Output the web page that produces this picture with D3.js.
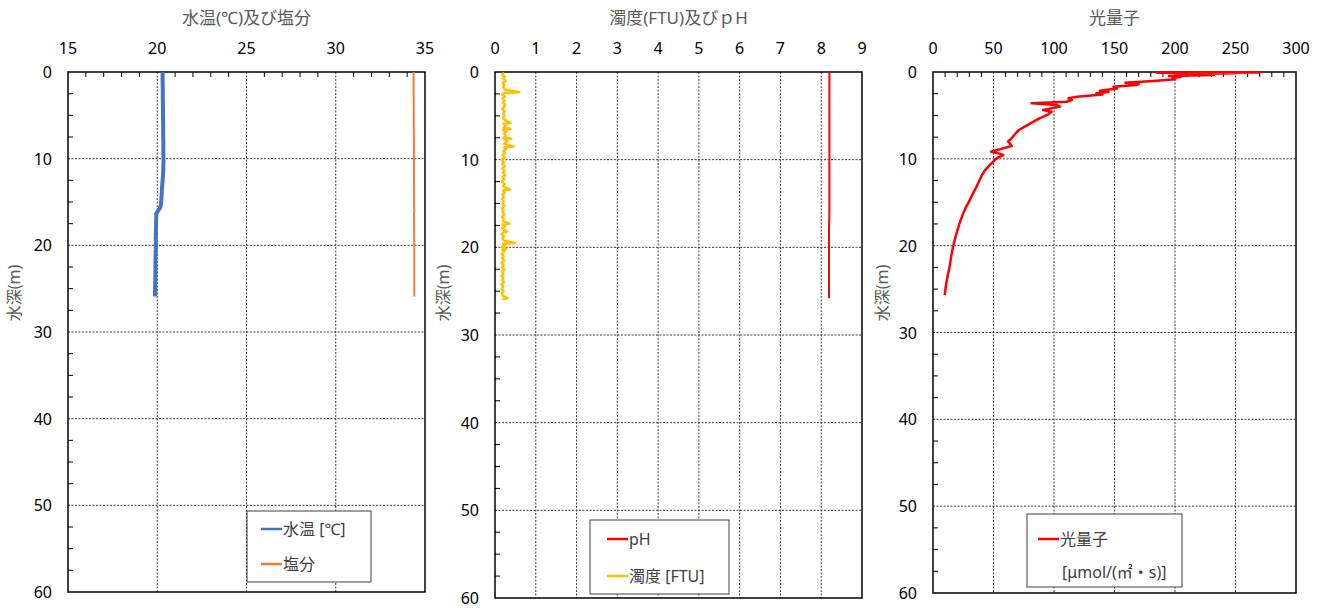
<!DOCTYPE html>
<html>
<head>
<meta charset="utf-8">
<script src="https://cdn.jsdelivr.net/npm/d3@7"></script>
<style>
  body { margin: 0; background: #fff; }
  svg { display: block; font-family: "Noto Sans", "Noto Sans CJK JP", sans-serif; }
</style>
</head>
<body>
<svg id="chart" width="1328" height="612"></svg>
<script>
// ---- depth profiles ----
const tempDepth = [0,1,2,3,4,5,6,7,8,9,10,11,12,13,14,15,15.6,16.0,16.3,17,18,19,20,21,22,23,24,25,25.9];
const temp      = [20.30,20.30,20.31,20.31,20.32,20.32,20.33,20.33,20.34,20.34,20.35,20.34,20.32,20.28,20.25,20.22,20.18,20.05,19.95,19.94,19.93,19.92,19.92,19.91,19.90,19.90,19.89,19.88,19.87];

const salDepth = [0,2,4,6,8,10,12,14,15.8,16,16.2,18,20,22,24,25.9];
const salinity = [34.36,34.36,34.37,34.37,34.38,34.38,34.38,34.39,34.39,34.41,34.39,34.39,34.40,34.40,34.40,34.40];

const phDepth = [0,2,4,6,8,10,12,14,16,18,20,22,24,25.8];
const ph      = [8.20,8.20,8.20,8.20,8.20,8.20,8.20,8.20,8.20,8.19,8.19,8.19,8.19,8.19];

const turbDepth = [0.1,0.3,0.5,0.75,1.0,1.25,1.5,1.75,2.0,2.3,2.4,2.6,2.8,3.0,3.25,3.5,3.75,4.0,4.25,4.5,4.75,5.0,5.25,5.5,5.8,5.9,6.1,6.3,6.5,6.6,6.8,7.0,7.25,7.5,7.6,7.7,7.9,8.2,8.5,8.6,8.8,9.0,9.25,9.5,9.75,10.0,10.25,10.5,10.75,11.0,11.25,11.5,11.75,12.0,12.25,12.5,12.75,13.0,13.2,13.4,13.5,13.75,14.0,14.25,14.5,14.75,15.0,15.25,15.5,15.75,16.0,16.25,16.5,16.75,17.0,17.3,17.4,17.6,17.8,18.0,18.2,18.3,18.5,18.75,19.0,19.25,19.5,19.6,19.8,20.0,20.2,20.3,20.5,20.75,21.0,21.25,21.5,21.75,22.0,22.25,22.5,22.75,23.0,23.25,23.5,23.75,24.0,24.25,24.5,24.75,25.0,25.25,25.5,25.8,25.9];
const turbidity = [0.22,0.18,0.24,0.20,0.26,0.19,0.23,0.20,0.25,0.59,0.22,0.18,0.24,0.19,0.23,0.20,0.25,0.21,0.18,0.24,0.20,0.23,0.19,0.25,0.38,0.21,0.26,0.22,0.38,0.20,0.27,0.22,0.26,0.21,0.40,0.24,0.30,0.22,0.46,0.22,0.27,0.21,0.25,0.19,0.23,0.16,0.22,0.18,0.24,0.19,0.23,0.20,0.25,0.19,0.22,0.17,0.23,0.20,0.26,0.37,0.20,0.24,0.18,0.22,0.17,0.21,0.19,0.23,0.17,0.21,0.19,0.23,0.17,0.21,0.20,0.35,0.19,0.24,0.18,0.22,0.30,0.20,0.17,0.22,0.18,0.23,0.49,0.19,0.23,0.17,0.28,0.18,0.22,0.17,0.21,0.18,0.22,0.16,0.21,0.18,0.23,0.17,0.21,0.16,0.20,0.18,0.22,0.16,0.20,0.17,0.21,0.17,0.19,0.30,0.18];

const lightDepth = [0.02,0.05,0.08,0.15,0.25,0.35,0.45,0.54,0.7,0.84,1.0,1.23,1.4,1.5,1.69,1.9,2.15,2.3,2.46,2.6,2.84,3.03,3.2,3.42,3.61,3.8,3.99,4.38,4.57,4.9,5.34,5.8,6.2,6.68,7.1,7.64,8.0,8.3,8.53,8.8,9.18,9.4,9.56,9.9,10.14,10.7,11.29,12.0,12.6,13.2,14.0,14.75,15.5,16.28,17.4,18.6,19.3,20.1,21.2,22.4,23.3,24.3,25.0,25.7];
const light      = [220,270,185,250,200,232,195,205,198,200,185,159,170,168,149,152,138,145,135,140,119,112,115,110.5,81.5,102,105,91,98,95,88,82,77,71,68,65,62,64,65,58,48,55,58,53,51,47,43,40,38,36,33,30.4,27.5,25,22,19.4,18,16.6,15.1,13.8,12.4,11,10.3,9.7];

// ---- axis ticks ----
const depthTicks = [0,10,20,30,40,50,60];
const tempTicks  = [15,20,25,30,35];
const turbTicks  = [0,1,2,3,4,5,6,7,8,9];
const lightTicks = [0,50,100,150,200,250,300];

const svg = d3.select("#chart");

function zip(ds, vs) { return ds.map((d, i) => ({ depth: d, value: vs[i] })); }

function panel(cfg) {
  const x = d3.scaleLinear().domain(cfg.xDomain).range([cfg.left, cfg.right]);
  const y = d3.scaleLinear().domain([0, 60]).range([cfg.top, cfg.bottom]);
  const g = svg.append("g");

  // grid
  g.selectAll(".vgrid").data(cfg.xTicks.slice(1, -1)).join("line")
    .attr("x1", d => x(d)).attr("x2", d => x(d))
    .attr("y1", cfg.top).attr("y2", cfg.bottom)
    .attr("stroke", "#3a3a3a").attr("stroke-width", 1).attr("stroke-dasharray", "2,1.5");
  g.selectAll(".hgrid").data(depthTicks.slice(1, -1)).join("line")
    .attr("x1", cfg.left).attr("x2", cfg.right)
    .attr("y1", d => y(d)).attr("y2", d => y(d))
    .attr("stroke", "#3a3a3a").attr("stroke-width", 1).attr("stroke-dasharray", "2,1.5");

  // minor ticks (inside)
  const yMinor = d3.range(0, 60.01, 2.5).filter(v => v % 10 !== 0);
  g.selectAll(".ymin").data(yMinor).join("line")
    .attr("x1", cfg.left).attr("x2", cfg.left + 5)
    .attr("y1", d => y(d)).attr("y2", d => y(d))
    .attr("stroke", "#000").attr("stroke-width", 1);
  if (cfg.xMinor) {
    g.selectAll(".xmin").data(cfg.xMinor).join("line")
      .attr("x1", d => x(d)).attr("x2", d => x(d))
      .attr("y1", cfg.top).attr("y2", cfg.top + 5)
      .attr("stroke", "#000").attr("stroke-width", 1);
  }

  // frame
  g.append("rect")
    .attr("x", cfg.left).attr("y", cfg.top)
    .attr("width", cfg.right - cfg.left).attr("height", cfg.bottom - cfg.top)
    .attr("fill", "none").attr("stroke", "#000").attr("stroke-width", 1.5);

  // tick labels
  g.selectAll(".xlab").data(cfg.xTicks).join("text")
    .attr("x", d => x(d)).attr("y", 54)
    .attr("text-anchor", "middle").attr("font-size", 16).attr("fill", "#000")
    .text(d => d);
  g.selectAll(".ylab").data(depthTicks).join("text")
    .attr("x", cfg.left - 16).attr("y", d => y(d) + 6)
    .attr("text-anchor", "end").attr("font-size", 16).attr("fill", "#000")
    .text(d => d);

  // titles
  g.append("text")
    .attr("x", (cfg.left + cfg.right) / 2).attr("y", 24)
    .attr("text-anchor", "middle").attr("font-size", 17).attr("fill", "#595959")
    .text(cfg.title);
  g.append("text")
    .attr("transform", `translate(${cfg.yTitleX},293) rotate(-90)`)
    .attr("text-anchor", "middle").attr("font-size", 16).attr("fill", "#595959")
    .text("水深(m)");

  // series
  const line = d3.line().x(d => x(d.value)).y(d => y(d.depth));
  cfg.series.forEach(s => {
    g.append("path").datum(s.data)
      .attr("fill", "none").attr("stroke", s.color).attr("stroke-width", s.width)
      .attr("stroke-linejoin", "round")
      .attr("d", line);
  });

  // legend
  const L = cfg.legend;
  const lg = g.append("g");
  lg.append("rect").attr("x", L.x).attr("y", L.y).attr("width", L.w).attr("height", L.h)
    .attr("fill", "#fff").attr("stroke", "#404040").attr("stroke-width", 1);
  L.items.forEach((it, i) => {
    const yy = L.y + L.first + i * L.step;
    lg.append("line").attr("x1", L.x + L.pad).attr("x2", L.x + L.pad + 21)
      .attr("y1", yy).attr("y2", yy).attr("stroke", it.color).attr("stroke-width", 2.5);
    lg.append("text").attr("x", L.x + L.pad + 22).attr("y", yy + 6)
      .attr("font-size", 16).attr("fill", "#404040").text(it.label);
  });
  if (L.extra) {
    lg.append("text").attr("x", L.x + L.pad + 24).attr("y", L.y + L.first + L.step + 6)
      .attr("font-size", 16).attr("fill", "#404040").text(L.extra);
  }
}

panel({
  left: 68, right: 425, top: 72, bottom: 592,
  xDomain: [15, 35], xTicks: tempTicks, xMinor: d3.range(16, 35, 1).filter(v => v % 5 !== 0),
  title: "水温(℃)及び塩分", yTitleX: 20,
  series: [
    { data: zip(tempDepth, temp), color: "#4472C4", width: 4 },
    { data: zip(salDepth, salinity), color: "#ED7D31", width: 2 }
  ],
  legend: { x: 247, y: 511, w: 124, h: 71, pad: 14, first: 18, step: 35,
    items: [ { label: "水温 [℃]", color: "#4472C4" }, { label: "塩分", color: "#ED7D31" } ] }
});

panel({
  left: 495, right: 862, top: 72, bottom: 598,
  xDomain: [0, 9], xTicks: turbTicks, xMinor: null,
  title: "濁度(FTU)及びｐH", yTitleX: 449,
  series: [
    { data: zip(phDepth, ph), color: "#FF0000", width: 2 },
    { data: zip(turbDepth, turbidity), color: "#FFC000", width: 2.5 }
  ],
  legend: { x: 590, y: 520, w: 139, h: 74, pad: 17, first: 19, step: 37,
    items: [ { label: "pH", color: "#FF0000" }, { label: "濁度 [FTU]", color: "#FFC000" } ] }
});

panel({
  left: 933, right: 1296, top: 72, bottom: 593,
  xDomain: [0, 300], xTicks: lightTicks, xMinor: d3.range(10, 300, 10).filter(v => v % 50 !== 0),
  title: "光量子", yTitleX: 888,
  series: [
    { data: zip(lightDepth, light), color: "#FF0000", width: 2.5 }
  ],
  legend: { x: 1027, y: 514, w: 155, h: 73, pad: 11, first: 25, step: 33,
    items: [ { label: "光量子", color: "#FF0000" } ], extra: "[μmol/(㎡・s)]" }
});
</script>
</body>
</html>
